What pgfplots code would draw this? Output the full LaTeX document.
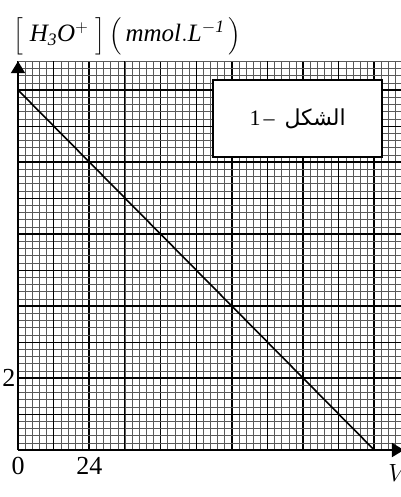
\documentclass[border=0pt]{standalone}
\usepackage{amsmath}
\usepackage{fontspec}
\setmainfont{Liberation Serif}
\newfontfamily\arabicfont[Script=Arabic]{DejaVu Sans}
\TeXXeTstate=1
\usepackage{pgfplots}
\pgfplotsset{compat=1.18}
\usetikzlibrary{arrows.meta}
% brackets at a fixed size, independent of the label font
\newcommand\bk[1]{\mbox{\fontsize{22}{24}\selectfont$\Big#1$}}

\begin{document}
\begin{tikzpicture}
\begin{axis}[
  anchor=south west, at={(18pt,47pt)},
  x=2.96875pt, y=36pt,
  xmin=0, xmax=130, ymin=0, ymax=10.8,
  axis lines=left,
  axis line style={line width=2pt, -{Triangle[length=12pt,width=14pt]}},
  xtick={0,24,...,144}, ytick={0,2,...,12},
  xticklabels={0,24,{},{},{},{},{}},
  yticklabels={{},2,{},{},{},{},{}},
  minor x tick num=9, minor y tick num=9,
  grid=both,
  major grid style={black, line width=1.6pt},
  minor grid style={black!65, line width=0.5pt},
  extra x ticks={12,36,60,84,108,132},
  extra y ticks={1,3,5,7,9,11},
  extra x tick labels={}, extra y tick labels={},
  extra tick style={major grid style={black, line width=0.9pt}},
  tick style={draw=none},
  ticklabel style={font=\fontsize{26}{28}\selectfont},
  xticklabel style={yshift=-2pt},
  yticklabel style={xshift=3pt},
  ylabel={$\bk[\;\mathit{H_3O^{+}}\;\bk]\,\bk(\,\mathit{mmol.L^{-1}}\,\bk)$},
  every axis y label/.style={at={(rel axis cs:0,1)}, anchor=south west,
    inner sep=0pt, xshift=-5pt, yshift=6pt, font=\fontsize{25}{27}\selectfont},
  xlabel={$V_{(mL)}$},
  every axis x label/.style={at={(axis cs:123.6,0)}, anchor=north west,
    yshift=-11pt, font=\fontsize{25}{27}\selectfont},
]
\addplot[black, line width=1.6pt] coordinates {(0,10) (120,0)};
\draw[fill=white, line width=1.8pt] (axis cs:65.7,8.14) rectangle (axis cs:122.6,10.28);
\node at (axis cs:94.2,9.2) {\fontsize{22}{24}\selectfont\beginR{\arabicfont الشكل}\hspace{10pt}–\hspace{3pt}1\endR};
\end{axis}
\pgfresetboundingbox
\useasboundingbox (0,0) rectangle (400pt,497pt);
\end{tikzpicture}
\end{document}
